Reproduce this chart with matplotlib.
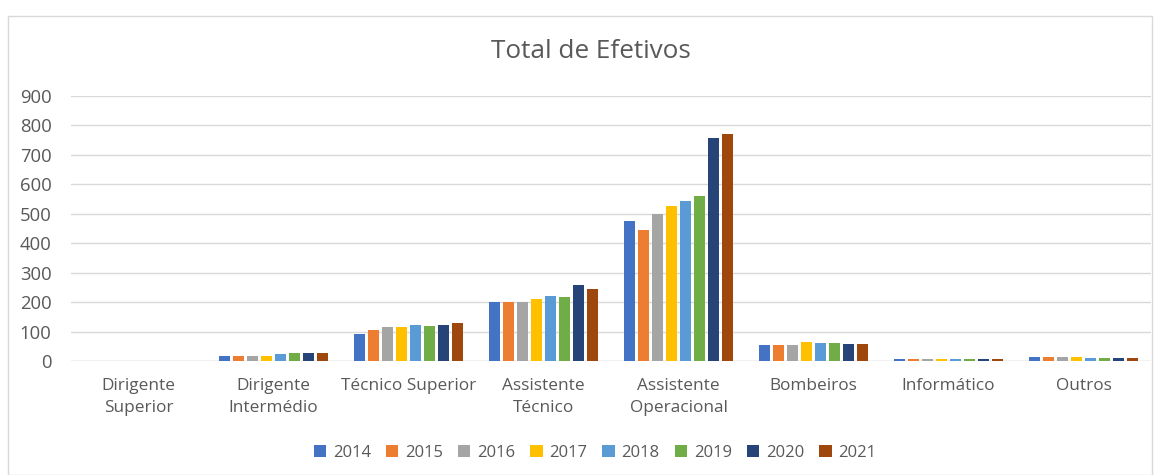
import matplotlib
matplotlib.use("Agg")
import matplotlib.pyplot as plt
import numpy as np
from matplotlib.patches import Rectangle

categories = ["Dirigente\nSuperior", "Dirigente\nIntermédio", "Técnico Superior",
              "Assistente\nTécnico", "Assistente\nOperacional", "Bombeiros",
              "Informático", "Outros"]
years = ["2014", "2015", "2016", "2017", "2018", "2019", "2020", "2021"]

v2014 = [0, 18, 92, 201, 477, 56, 7, 14]
v2015 = [0, 16, 106, 201, 445, 55, 7, 14]
v2016 = [0, 18, 114, 201, 500, 53, 6, 14]
v2017 = [0, 18, 115, 211, 525, 64, 6, 14]
v2018 = [0, 24, 123, 222, 542, 62, 6, 11]
v2019 = [0, 27, 119, 216, 559, 61, 6, 10]
v2020 = [0, 27, 122, 258, 759, 59, 7, 11]
v2021 = [0, 27, 130, 244, 772, 59, 7, 10]
series = [v2014, v2015, v2016, v2017, v2018, v2019, v2020, v2021]

colors = ["#4472C4", "#ED7D31", "#A5A5A5", "#FFC000", "#5B9BD5", "#70AD47", "#264478", "#9E480E"]

plt.rcParams['font.family'] = ['Open Sans', 'DejaVu Sans']
txt = "#595959"

W, H = 1161, 475
fig = plt.figure(figsize=(W/100, H/100), dpi=100)
fig.patches.append(Rectangle((8/W, 0), (1152-8)/W, 1 - 16/H, transform=fig.transFigure,
                             fill=False, edgecolor="#D9D9D9", linewidth=1))

left, right = 71, 1151
bottom, top = 361, 96
ax = fig.add_axes([left/W, 1 - bottom/H, (right-left)/W, (bottom-top)/H])

x = np.arange(len(categories))
step = 0.104
bw = 0.084
for i, (yr, vals) in enumerate(zip(years, series)):
    ax.bar(x + (i - 3.5)*step, vals, width=bw, color=colors[i], label=yr, zorder=3)

ax.set_xlim(-0.5, len(categories) - 0.5)
ax.set_ylim(0, 900)
ax.set_yticks(range(0, 901, 100))
ax.grid(axis='y', color="#D9D9D9", linewidth=1, zorder=0)
for s in ax.spines.values():
    s.set_visible(False)
ax.axhline(0, color="#D9D9D9", linewidth=1, zorder=2)
ax.tick_params(axis='both', length=0, colors=txt)
ax.tick_params(axis='y', pad=14, labelsize=13.3)
ax.tick_params(axis='x', pad=12, labelsize=12.4)
ax.set_xticks(x)
ax.set_xticklabels(categories, linespacing=1.55)

fig.text(591/W, 1 - 52/H, "Total de Efetivos", ha='center', va='center', fontsize=18.8, color=txt)

leg = fig.legend(loc='center', bbox_to_anchor=(595/W, 1 - 453/H), ncol=8, frameon=False,
                 fontsize=12, handlelength=0.75, handleheight=0.75, handletextpad=0.4,
                 columnspacing=0.9, labelcolor=txt)

fig.savefig("out.png", dpi=100)
